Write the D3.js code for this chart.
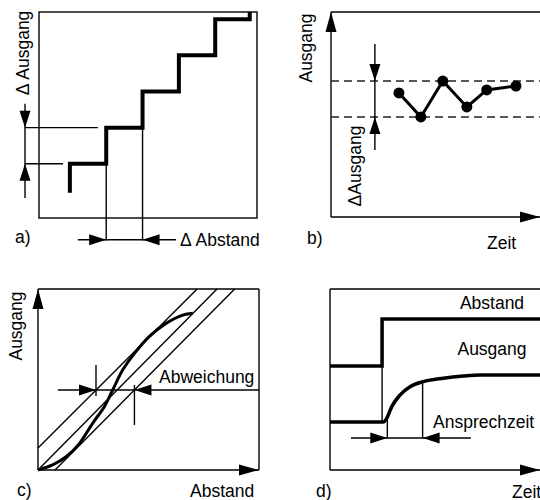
<!DOCTYPE html>
<html>
<head>
<meta charset="utf-8">
<script src="https://cdn.jsdelivr.net/npm/d3@7"></script>
<style>
  body { margin: 0; background: #fff; }
  text { font-family: "Liberation Sans", Arial, sans-serif; font-size: 17.5px; fill: #000; }
</style>
</head>
<body>
<script>
// ---- data ----
// a) staircase (Abstand vs Ausgang), step corners
var stairX = [0.85, 0.85, 1.85, 1.85, 2.85, 2.85, 3.85, 3.85, 4.85, 4.85, 5.8, 5.8];
var stairY = [0.7, 1.5, 1.5, 2.5, 2.5, 3.5, 3.5, 4.5, 4.5, 5.5, 5.5, 5.7];
var deltaOutLevels = [1.5, 2.5];
var deltaDistSteps = [1.85, 2.85];

// b) repeated readings over time
var timeB = [3.25, 4.3, 5.35, 6.5, 7.45, 8.85];
var outB = [6.05, 4.88, 6.63, 5.37, 6.2, 6.39];
var bandB = [4.88, 6.63];

// c) linearity
var idealLine = [[0, 0], [8.1, 10]];
var upperLine = [[0, 1.22], [7.2, 10]];
var lowerLine = [[0.77, 0], [8.9, 10]];
var curveCx = [0, 0.66, 1.27, 1.87, 2.47, 3.0, 3.38, 3.83, 4.43, 5.03, 5.79, 6.55, 7.0];
var curveCy = [0, 0.28, 0.73, 1.46, 2.58, 3.5, 4.42, 5.52, 6.54, 7.37, 8.1, 8.56, 8.66];
var devLevel = 4.42;

// d) step response
var stepDx = [0, 2.48, 2.48, 10];
var stepDy = [5.75, 5.75, 8.34, 8.34];
var respDx = [0, 2.54, 2.7, 2.94, 3.33, 3.81, 4.44, 5.4, 6.35, 7.14, 10];
var respDy = [2.65, 2.65, 2.85, 3.5, 4.14, 4.6, 4.88, 5.07, 5.19, 5.25, 5.25];
var respTimes = [2.73, 4.41];

var svg = d3.select("body").append("svg").attr("width", 540).attr("height", 500);

function line(g, x1, y1, x2, y2, w) {
    return g.append("line").attr("x1", x1).attr("y1", y1).attr("x2", x2).attr("y2", y2)
        .attr("stroke", "#000").attr("stroke-width", w || 1.4);
}

// filled arrow head, tip at (x,y), pointing to dir: "up","down","left","right"
function arrow(g, x, y, dir, len, half) {
    len = len || 17; half = half || 5.5;
    var p;
    if (dir == "right") p = [[x, y], [x - len, y - half], [x - len, y + half]];
    if (dir == "left") p = [[x, y], [x + len, y - half], [x + len, y + half]];
    if (dir == "down") p = [[x, y], [x - half, y - len], [x + half, y - len]];
    if (dir == "up") p = [[x, y], [x - half, y + len], [x + half, y + len]];
    g.append("path").attr("d", "M" + p.join("L") + "Z").attr("fill", "#000");
}

function vtext(g, x, y, s) {
    g.append("text").attr("transform", "translate(" + x + "," + y + ") rotate(-90)")
        .attr("text-anchor", "middle").text(s);
}

// ================= a) =================
var ga = svg.append("g");
var xa = d3.scaleLinear().domain([0, 6]).range([39, 257]);
var ya = d3.scaleLinear().domain([0, 5.7]).range([218, 12]);

ga.append("rect").attr("x", xa(0)).attr("y", ya(5.7)).attr("width", xa(6) - xa(0))
    .attr("height", ya(0) - ya(5.7)).attr("fill", "none").attr("stroke", "#000").attr("stroke-width", 1.4);

// delta Ausgang marks
var axL = xa(-0.385);
line(ga, axL, ya(deltaOutLevels[0]), xa(0.66), ya(deltaOutLevels[0]));
line(ga, axL, ya(deltaOutLevels[1]), xa(1.62), ya(deltaOutLevels[1]));
line(ga, axL, ya(3.16), axL, ya(0.55));
arrow(ga, axL, ya(deltaOutLevels[1]), "down");
arrow(ga, axL, ya(deltaOutLevels[0]), "up");
vtext(ga, 29, 53, "\u0394 Ausgang");

// delta Abstand marks
line(ga, xa(deltaDistSteps[0]), ya(deltaOutLevels[0]), xa(deltaDistSteps[0]), ya(-0.62));
line(ga, xa(deltaDistSteps[1]), ya(deltaOutLevels[1]), xa(deltaDistSteps[1]), ya(-0.62));
line(ga, xa(1.07), ya(-0.6), xa(3.77), ya(-0.6));
arrow(ga, xa(deltaDistSteps[0]), ya(-0.6), "right");
arrow(ga, xa(deltaDistSteps[1]), ya(-0.6), "left");
ga.append("text").attr("x", 180).attr("y", 246).text("\u0394 Abstand");
ga.append("text").attr("x", 15).attr("y", 243).text("a)");

ga.append("path")
    .attr("d", d3.line().x(function (d, i) { return xa(stairX[i]); }).y(function (d, i) { return ya(stairY[i]); })(stairX))
    .attr("fill", "none").attr("stroke", "#000").attr("stroke-width", 4).attr("stroke-linejoin", "miter");

// ================= b) =================
var gb = svg.append("g");
var xb = d3.scaleLinear().domain([0, 10]).range([331, 540]);
var yb = d3.scaleLinear().domain([0, 10]).range([217, 12]);

line(gb, xb(0), yb(10), xb(10), yb(10));
line(gb, xb(0), yb(0), xb(0), yb(10));
line(gb, xb(0), yb(0), xb(10), yb(0));
arrow(gb, xb(0), yb(10), "up", 20, 5.5);
arrow(gb, xb(10), yb(0), "right", 20, 5.5);

bandB.forEach(function (v) {
    line(gb, xb(0), yb(v), xb(10), yb(v), 1.5).attr("stroke", "#222").attr("stroke-dasharray", "8,5");
});

var bx = xb(2.1);
line(gb, bx, yb(8.44), bx, yb(3.27));
arrow(gb, bx, yb(bandB[1]), "down");
arrow(gb, bx, yb(bandB[0]), "up");
vtext(gb, 312, 48, "Ausgang");
vtext(gb, 361, 166, "\u0394Ausgang");

gb.append("path")
    .attr("d", d3.line().x(function (d, i) { return xb(timeB[i]); }).y(function (d, i) { return yb(outB[i]); })(timeB))
    .attr("fill", "none").attr("stroke", "#000").attr("stroke-width", 3);
gb.selectAll("circle").data(timeB).enter().append("circle")
    .attr("cx", function (d) { return xb(d); })
    .attr("cy", function (d, i) { return yb(outB[i]); })
    .attr("r", 5.5).attr("fill", "#000");

gb.append("text").attr("x", 307).attr("y", 244).text("b)");
gb.append("text").attr("x", 487).attr("y", 249).text("Zeit");

// ================= c) =================
var gc = svg.append("g");
var xc = d3.scaleLinear().domain([0, 10]).range([38, 259]);
var yc = d3.scaleLinear().domain([0, 10]).range([470, 289]);

line(gc, xc(0), yc(10), xc(10), yc(10));
line(gc, xc(10), yc(10), xc(10), yc(0));
line(gc, xc(0), yc(0), xc(0), yc(10));
line(gc, xc(0), yc(0), xc(10), yc(0));
arrow(gc, xc(0), yc(10), "up", 20, 5.5);
arrow(gc, xc(10), yc(0), "right", 20, 5.5);

[upperLine, idealLine, lowerLine].forEach(function (l) {
    line(gc, xc(l[0][0]), yc(l[0][1]), xc(l[1][0]), yc(l[1][1]));
});

function xAt(l, y) {
    return l[0][0] + (y - l[0][1]) * (l[1][0] - l[0][0]) / (l[1][1] - l[0][1]);
}
var du = xAt(upperLine, devLevel), dl = xAt(lowerLine, devLevel);
line(gc, xc(0.9), yc(devLevel), xc(10), yc(devLevel));
line(gc, xc(du), yc(5.8), xc(du), yc(4.09));
line(gc, xc(dl), yc(4.7), xc(dl), yc(2.49));
arrow(gc, xc(du), yc(devLevel), "right");
arrow(gc, xc(dl), yc(devLevel), "left");

gc.append("path")
    .attr("d", d3.line().curve(d3.curveCatmullRom)
        .x(function (d, i) { return xc(curveCx[i]); }).y(function (d, i) { return yc(curveCy[i]); })(curveCx))
    .attr("fill", "none").attr("stroke", "#000").attr("stroke-width", 3);

gc.append("text").attr("x", 159).attr("y", 383).text("Abweichung");
vtext(gc, 22, 326, "Ausgang");
gc.append("text").attr("x", 17).attr("y", 496).text("c)");
gc.append("text").attr("x", 190).attr("y", 497).text("Abstand");

// ================= d) =================
var gd = svg.append("g");
var xd = d3.scaleLinear().domain([0, 10]).range([330, 540]);
var yd = d3.scaleLinear().domain([0, 10]).range([470, 289]);

line(gd, xd(0), yd(10), xd(10), yd(10));
line(gd, xd(0), yd(0), xd(0), yd(10));
line(gd, xd(0), yd(0), xd(10), yd(0));
arrow(gd, xd(10), yd(0), "right", 20, 5.5);

line(gd, xd(stepDx[1]), yd(stepDy[0]), xd(stepDx[1]), yd(respDy[0]));
line(gd, xd(respTimes[0]), yd(2.8), xd(respTimes[0]), yd(1.77));
line(gd, xd(respTimes[1]), yd(4.8), xd(respTimes[1]), yd(1.77));
line(gd, xd(1.0), yd(1.77), xd(6.71), yd(1.77));
arrow(gd, xd(respTimes[0]), yd(1.77), "right");
arrow(gd, xd(respTimes[1]), yd(1.77), "left");

gd.append("path")
    .attr("d", d3.line().x(function (d, i) { return xd(stepDx[i]); }).y(function (d, i) { return yd(stepDy[i]); })(stepDx))
    .attr("fill", "none").attr("stroke", "#000").attr("stroke-width", 3.5);
gd.append("path")
    .attr("d", d3.line().curve(d3.curveMonotoneX)
        .x(function (d, i) { return xd(respDx[i]); }).y(function (d, i) { return yd(respDy[i]); })(respDx))
    .attr("fill", "none").attr("stroke", "#000").attr("stroke-width", 3.5);

gd.append("text").attr("x", 492).attr("y", 309).attr("text-anchor", "middle").text("Abstand");
gd.append("text").attr("x", 492).attr("y", 355).attr("text-anchor", "middle").text("Ausgang");
gd.append("text").attr("x", 433).attr("y", 428).text("Ansprechzeit");
gd.append("text").attr("x", 316).attr("y", 497).text("d)");
gd.append("text").attr("x", 512).attr("y", 498).text("Zeit");
</script>
</body>
</html>
